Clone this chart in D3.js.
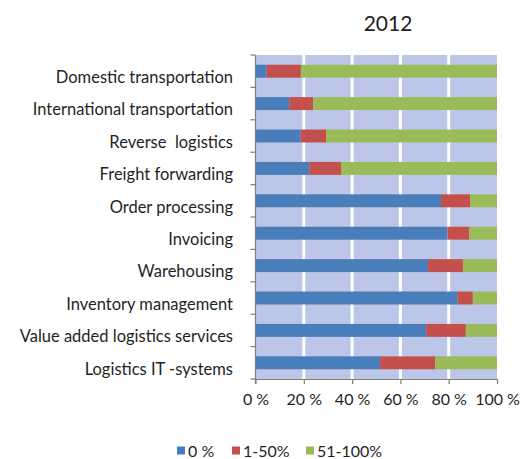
<!DOCTYPE html>
<html>
<head>
<meta charset="utf-8">
<script src="https://cdn.jsdelivr.net/npm/d3@7"></script>
<style>
  html, body { margin: 0; padding: 0; background: #fff; }
  svg { display: block; font-family: Lato, "Open Sans", sans-serif; }
</style>
</head>
<body>
<svg id="chart" width="524" height="459"></svg>
<script>
// Share of activity outsourced, per logistics function (2012)
const categories = [
  "Domestic transportation",
  "International transportation",
  "Reverse  logistics",
  "Freight forwarding",
  "Order processing",
  "Invoicing",
  "Warehousing",
  "Inventory management",
  "Value added logistics services",
  "Logistics IT -systems"
];
const seriesNames = ["0 %", "1-50%", "51-100%"];
const share0   = [4.6, 14.0, 18.7, 22.3, 76.8, 79.5, 71.4, 83.7, 70.7, 51.6];
const share50  = [14.2, 9.9, 10.5, 13.1, 12.1, 9.0, 14.5, 6.3, 16.4, 22.8];
const share100 = [81.2, 76.1, 70.8, 64.6, 11.1, 11.5, 14.1, 10.0, 12.9, 25.6];
const xTicks = [0, 20, 40, 60, 80, 100];
const xTickLabels = ["0 %", "20 %", "40 %", "60 %", "80 %", "100 %"];
const title = "2012";

const colors = ["#4a7ebb", "#c4504e", "#9bbb59"];
const textColor = "#1f1f1f";

const svg = d3.select("#chart");
const plot = { left: 255.5, right: 497, top: 55, bottom: 379 };

const x = d3.scaleLinear().domain([0, 100]).range([plot.left, plot.right]);
const y = d3.scaleBand().domain(categories).range([plot.top, plot.bottom])
  .paddingInner(0.6).paddingOuter(0.3);

// plot area background
svg.append("rect")
  .attr("x", plot.left).attr("y", plot.top)
  .attr("width", plot.right - plot.left).attr("height", plot.bottom - plot.top)
  .attr("fill", "#bcc6e8");

// vertical gridlines
svg.append("g").selectAll("line")
  .data(xTicks.filter(d => d > 0 && d < 100))
  .join("line")
  .attr("x1", d => x(d)).attr("x2", d => x(d))
  .attr("y1", plot.top).attr("y2", plot.bottom)
  .attr("stroke", "#ffffff").attr("stroke-width", 3);

// stacked bars
const rows = categories.map((c, i) => ({ cat: c, a: share0[i], b: share50[i], c: share100[i] }));
const stack = d3.stack().keys(["a", "b", "c"])(rows);

svg.append("g").selectAll("g")
  .data(stack)
  .join("g")
  .attr("fill", (d, i) => colors[i])
  .selectAll("rect")
  .data(d => d)
  .join("rect")
  .attr("x", d => x(d[0]))
  .attr("width", d => x(d[1]) - x(d[0]))
  .attr("y", d => y(d.data.cat))
  .attr("height", y.bandwidth());

// left axis: line with ticks between categories
const boundaries = d3.range(categories.length + 1).map(i => plot.top + i * (plot.bottom - plot.top) / categories.length);
const axisColor = "#7f7f7f";
svg.append("line")
  .attr("x1", plot.left).attr("x2", plot.left)
  .attr("y1", plot.top).attr("y2", plot.bottom + 5)
  .attr("stroke", axisColor).attr("stroke-width", 1.2);
svg.append("g").selectAll("line")
  .data(boundaries)
  .join("line")
  .attr("x1", plot.left - 5).attr("x2", plot.left)
  .attr("y1", d => d).attr("y2", d => d)
  .attr("stroke", axisColor).attr("stroke-width", 1.2);

// category labels
svg.append("g").selectAll("text")
  .data(categories)
  .join("text")
  .attr("x", 233)
  .attr("y", d => y(d) + y.bandwidth() / 2 + 6)
  .attr("dy", "0.35em")
  .attr("text-anchor", "end")
  .attr("font-size", 16.5)
  .attr("fill", textColor)
  .style("white-space", "pre")
  .text(d => d);

// bottom axis
const xAxis = d3.axisBottom(x)
  .tickValues(xTicks)
  .tickFormat((d, i) => xTickLabels[i])
  .tickSizeInner(5).tickSizeOuter(0).tickPadding(10);
const gx = svg.append("g")
  .attr("transform", `translate(0,${plot.bottom})`)
  .call(xAxis);
gx.select(".domain").attr("stroke", axisColor).attr("stroke-width", 1.2);
gx.selectAll(".tick line").attr("stroke", axisColor).attr("stroke-width", 1.2);
gx.selectAll(".tick text")
  .attr("font-family", "Lato, 'Open Sans', sans-serif")
  .attr("font-size", 16).attr("fill", textColor);

// title
svg.append("text")
  .attr("x", 388).attr("y", 31)
  .attr("text-anchor", "middle")
  .attr("font-size", 21)
  .attr("fill", textColor)
  .text(title);

// legend
const legendX = [177, 232, 306];
const legend = svg.append("g").selectAll("g")
  .data(seriesNames)
  .join("g")
  .attr("transform", (d, i) => `translate(${legendX[i]},445)`);
legend.append("rect")
  .attr("width", 8).attr("height", 8).attr("y", 1.5)
  .attr("fill", (d, i) => colors[i]);
legend.append("text")
  .attr("x", 11).attr("y", 11.5)
  .attr("font-size", 16).attr("fill", textColor)
  .text(d => d);
</script>
</body>
</html>
